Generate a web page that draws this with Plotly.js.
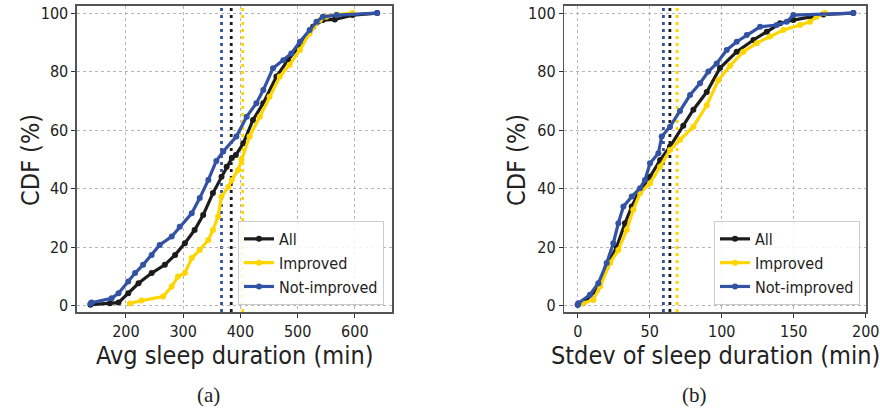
<!DOCTYPE html>
<html><head><meta charset="utf-8">
<script src="https://cdn.plot.ly/plotly-3.0.1.min.js"></script>
<style>body{margin:0;padding:0;background:#fff}#chart{width:880px;height:411px}</style>
</head><body><div id="chart"></div>
<script>
// ---- Data ----
const seriesNames = ["All", "Improved", "Not-improved"];
// (a) Average sleep duration (min) vs CDF (%)
const avgAllX = [138,172,187,204,222,245,268,286,303,320,335,352,367,376,385,392,405,422,440,463,483,504,527,544,565,596,639];
const avgAllY = [0.4,0.9,1.1,4.3,7.7,11.2,14,17.4,21.4,25.9,31,38.5,44.1,47.5,50.5,51.5,55.5,63.5,69.2,78.3,83.9,89.1,95.3,97.6,97.8,99.3,100];
const avgImpX = [207,227,265,280,291,303,315,329,344,352,361,367,379,385,396,402,416,434,451,469,486,504,521,539,550,568,596];
const avgImpY = [0.8,1.8,3.2,6.6,10,11.2,16.3,19.1,22.5,25.9,30.5,37.3,40.7,43,46.4,50,57.8,64.6,71.4,78.3,82.3,87.4,93.1,97.6,98.7,99.5,100];
const avgNotX = [138,140,175,187,204,216,230,245,259,280,294,315,329,344,358,370,393,411,428,440,457,475,489,504,521,533,544,568,639];
const avgNotY = [0.7,1.1,2.6,4.3,8.3,11.2,14,17.4,20.8,23.7,27,31.6,36.8,43,49.5,52.7,57.8,64.6,69.2,73.7,81.1,83.9,86.2,90.2,94.2,97,98.7,99.3,100];
const avgMeans = [384, 404, 367]; // All, Improved, Not-improved

// (b) Stdev of sleep duration (min) vs CDF (%)
const sdAllX = [0,3.5,13.2,20.1,27.1,32.8,37.5,42.1,50.2,57.2,64.1,73.3,80.3,89.6,98.8,110.4,122,131.3,140.5,149.7,161.3,170.6,191.4];
const sdAllY = [0.4,0.9,5.5,13.4,20.2,28.2,33.9,38.5,44.1,49.8,54.4,61.5,67,73,81.2,86.8,90.8,93.6,96.5,97.6,98.7,99.5,100];
const sdImpX = [3.5,10.8,15.5,22.4,28.2,34,38.6,43.3,50.2,57.2,64.1,71,80.3,89.6,97.6,105.8,115,124.3,133.5,142.8,154.4,161.3,165.9,171.7];
const sdImpY = [0.9,2,6.6,14.6,19.1,25.9,32.8,38.5,41.9,47.5,53.2,56.7,61.2,68.5,77,82,86.8,89.7,92,94.2,95.9,97,98.7,100];
const sdNotX = [0,0.4,8.5,14.3,20.1,24.7,28.2,31.7,37.5,43.3,46.7,50.2,56,58.3,64.1,71,78,84.9,90.7,96.5,103.5,110.4,117.4,126.6,138.2,145.1,149.7,191.4];
const sdNotY = [0.4,0.9,3.8,7.7,14.6,21.4,28.2,33.9,37.3,40.2,43,48.7,52.1,57.8,61.2,66.5,72,76,80,82.8,87.4,90.2,92.5,95.3,95.9,97,99.3,100];
const sdMeans = [64, 69, 59.5];

const yTicks = [0,20,40,60,80,100];
const avgTicks = [200,300,400,500,600];
const sdTicks = [0,50,100,150,200];
const xTitles = ["Avg sleep duration (min)", "Stdev of sleep duration (min)"];
const yTitle = "CDF (%)";
const captions = ["(a)", "(b)"];

// ---- Styling ----
const colors = ["#1c1c1c", "#FFD500", "#3352A3"];
const FONT = "Liberation Sans Narrow, DejaVu Sans Condensed, Roboto Condensed, Roboto, sans-serif";

function trace(x, y, i, xa, ya, leg) {
  return {x: x, y: y, type: "scatter", mode: "lines+markers", name: seriesNames[i],
    xaxis: xa, yaxis: ya, legend: leg, showlegend: true,
    line: {color: colors[i], width: 3.2}, marker: {color: colors[i], size: 6}};
}
const data = [];
const avgSets = [[avgAllX, avgAllY], [avgImpX, avgImpY], [avgNotX, avgNotY]];
const sdSets = [[sdAllX, sdAllY], [sdImpX, sdImpY], [sdNotX, sdNotY]];
[0,1,2].forEach(i => {
  const t = trace(avgSets[i][0], avgSets[i][1], i, "x", "y", "legend"); t.legendrank = i + 1; data.push(t);
});
[0,1,2].forEach(i => {
  const t = trace(sdSets[i][0], sdSets[i][1], i, "x2", "y2", "legend2"); t.legendrank = i + 1; data.push(t);
});

const shapes = [];
avgMeans.forEach((m, i) => shapes.push({type: "line", xref: "x", yref: "paper", x0: m, x1: m, y0: 0.2409, y1: 0.9854,
  line: {color: colors[i], width: 2.8, dash: "3px,4px"}, layer: "below"}));
sdMeans.forEach((m, i) => shapes.push({type: "line", xref: "x2", yref: "paper", x0: m, x1: m, y0: 0.2409, y1: 0.9854,
  line: {color: colors[i], width: 2.8, dash: "3px,4px"}, layer: "below"}));

function xax(dom, range, ticks, anchor) {
  return {domain: dom, range: range, tickvals: ticks, ticktext: ticks.map(String), anchor: anchor,
    showgrid: true, gridcolor: "#b5b5b5", griddash: "dot", gridwidth: 1, zeroline: false,
    showline: true, linecolor: "#555", linewidth: 1.6, mirror: true,
    ticks: "outside", ticklen: 4, tickcolor: "#333", tickfont: {family: FONT, size: 16, color: "#222"}};
}
function yax(range, anchor) {
  return {domain: [0.2409, 0.9854], range: range, tickvals: yTicks, ticktext: yTicks.map(String), anchor: anchor,
    showgrid: true, gridcolor: "#b5b5b5", griddash: "dot", gridwidth: 1, zeroline: false,
    showline: true, linecolor: "#555", linewidth: 1.6, mirror: true,
    ticks: "outside", ticklen: 4, tickcolor: "#333", tickfont: {family: FONT, size: 16, color: "#222"}};
}
const legendStyle = (x) => ({x: x, y: 0.2580, xanchor: "right", yanchor: "bottom", bgcolor: "rgba(255,255,255,0.85)",
  bordercolor: "#ccc", borderwidth: 1, font: {family: FONT, size: 16, color: "#222"}, tracegroupgap: 0});

function ann(text, x, y, size, fam, angle) {
  return {text: text, xref: "paper", yref: "paper", x: x / 880, y: 1 - y / 411, xanchor: "center", yanchor: "middle",
    showarrow: false, textangle: angle || 0, font: {family: fam, size: size, color: "#222"}};
}
const annotations = [
  ann(xTitles[0], 234, 355, 25, FONT),
  ann(xTitles[1], 715, 355, 25, FONT),
  ann(yTitle, 30, 160, 25, FONT, -90),
  ann(yTitle, 516, 160, 25, FONT, -90),
  ann(captions[0], 208, 395, 21, "Liberation Serif, serif"),
  ann(captions[1], 694, 395, 21, "Liberation Serif, serif")
];

const layout = {
  width: 880, height: 411, margin: {l: 0, r: 0, t: 0, b: 0},
  paper_bgcolor: "#fff", plot_bgcolor: "#fff",
  xaxis: xax([0.0875, 0.4455], [114.5, 665], avgTicks, "y"),
  yaxis: yax([-2.1, 102.4], "x"),
  xaxis2: xax([0.6413, 0.9841], [-9.3, 200.2], sdTicks, "y2"),
  yaxis2: yax([-2.1, 102.4], "x2"),
  legend: legendStyle(384/880),
  legend2: legendStyle(860/880),
  shapes: shapes, annotations: annotations, showlegend: true
};
Plotly.newPlot("chart", data, layout, {staticPlot: true});
</script></body></html>
